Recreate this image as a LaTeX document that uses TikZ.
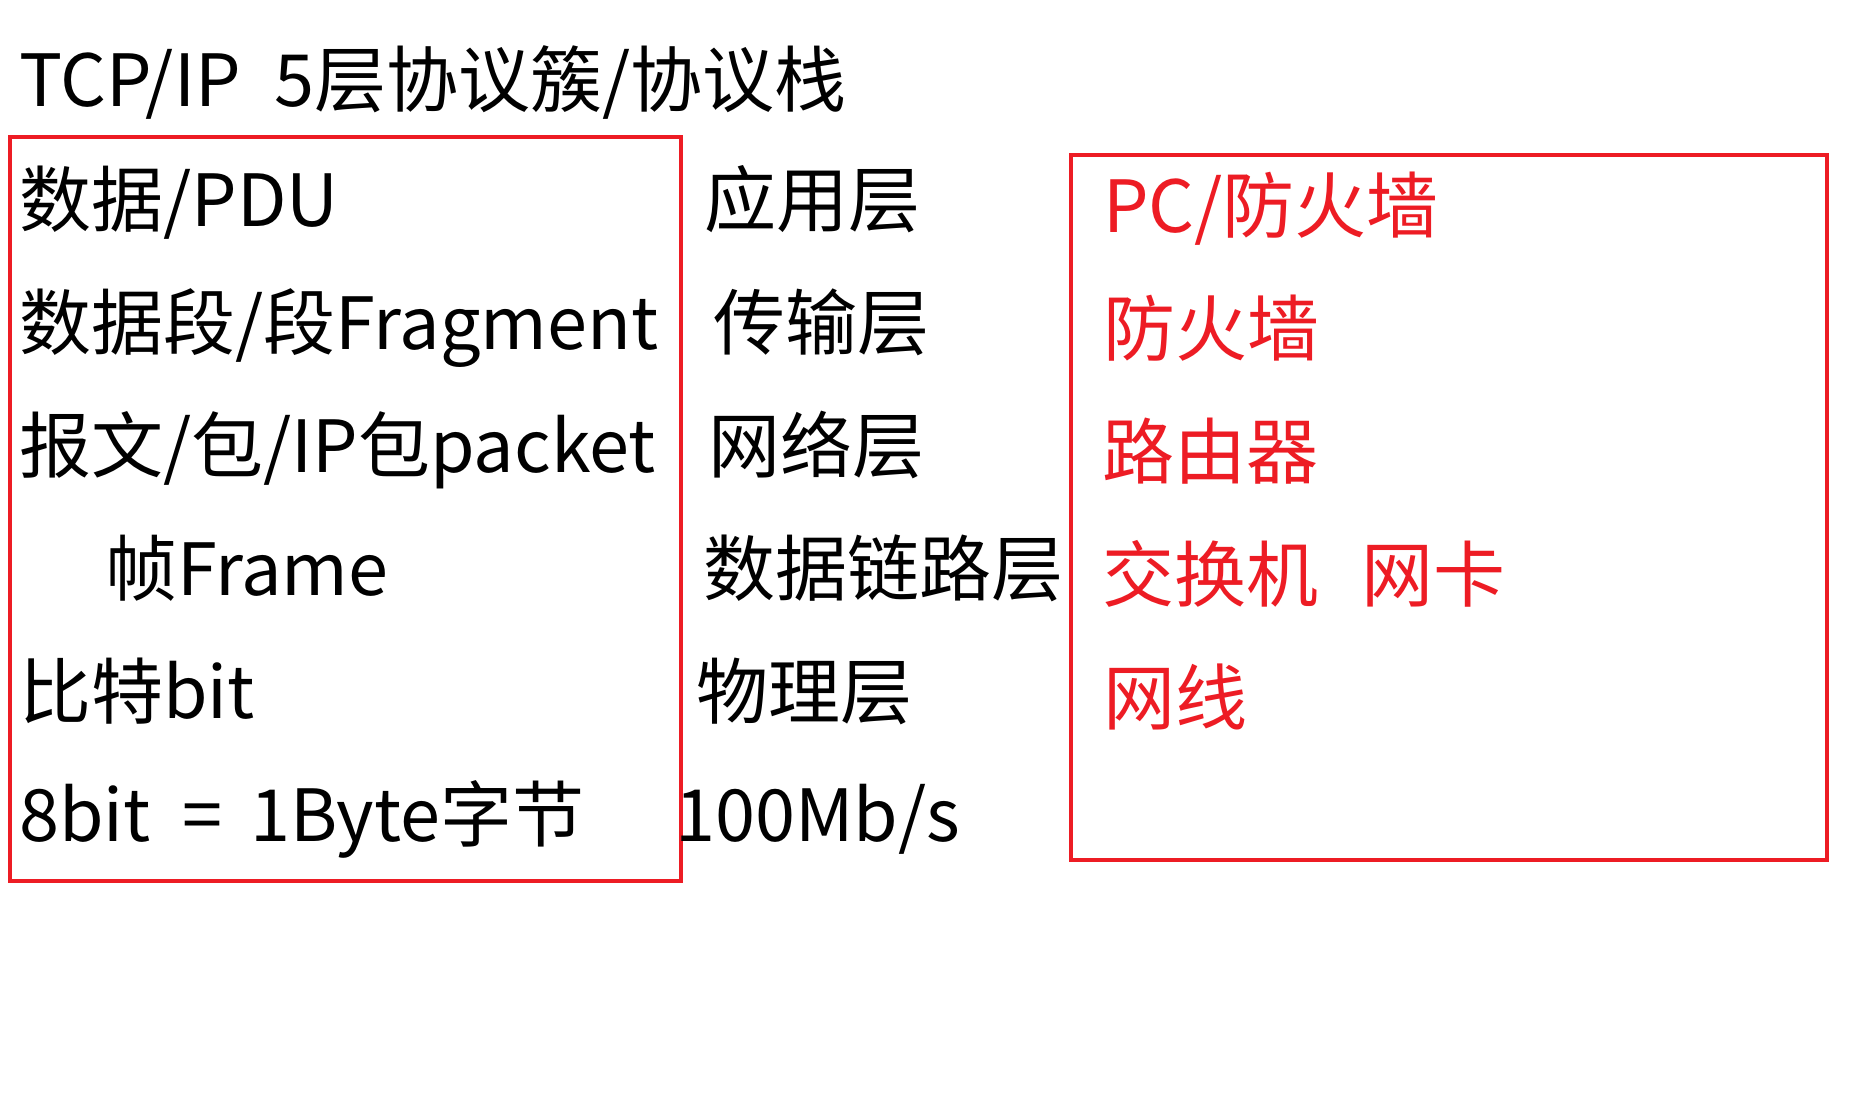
\documentclass[tikz,border=0pt]{standalone}
\usepackage{fontspec}
\setmainfont{Noto Sans CJK SC}
\definecolor{pred}{HTML}{ED1C24}
\begin{document}
\begin{tikzpicture}[x=1pt,y=-1pt,
  txt/.style={anchor=base west,inner sep=0pt,font=\fontsize{72}{86}\selectfont},
  rtxt/.style={txt,text=pred},
  redbox/.style={draw=pred,line width=4pt}]
\useasboundingbox[fill=white] (0,0) rectangle (1872,1093);
\node[txt] (title) at (19,106) {TCP/IP\hspace{34pt}5层协议簇/协议栈};
% left box
\draw[redbox] (10,137) rectangle (681,881);
\node[txt] (l1) at (19,226) {数据/PDU};
\node[txt] (l2) at (19,349) {数据段/段Fragment};
\node[txt] (l3) at (19,472) {报文/包/IP包packet};
\node[txt] (l4) at (105,595) {帧Frame};
\node[txt] (l5) at (19,718) {比特bit};
\node[txt] (l6) at (19,841) {8bit\hspace{32pt}=\hspace{28pt}1Byte字节};
% middle
\node[txt] (m1) at (704,226) {应用层};
\node[txt] (m2) at (713,349) {传输层};
\node[txt] (m3) at (708,472) {网络层};
\node[txt] (m4) at (703,595) {数据链路层};
\node[txt] (m5) at (696,718) {物理层};
\node[txt] (m6) at (675,841) {100Mb/s};
% right box
\draw[redbox] (1071,155) rectangle (1827,860);
\node[rtxt] (r1) at (1103,232) {PC/防火墙};
\node[rtxt] (r2) at (1103,355) {防火墙};
\node[rtxt] (r3) at (1102,478) {路由器};
\node[rtxt] (r4) at (1102,601) {交换机};
\node[rtxt] (r4b) at (1361,601) {网卡};
\node[rtxt] (r5) at (1103,724) {网线};
\end{tikzpicture}
\end{document}
